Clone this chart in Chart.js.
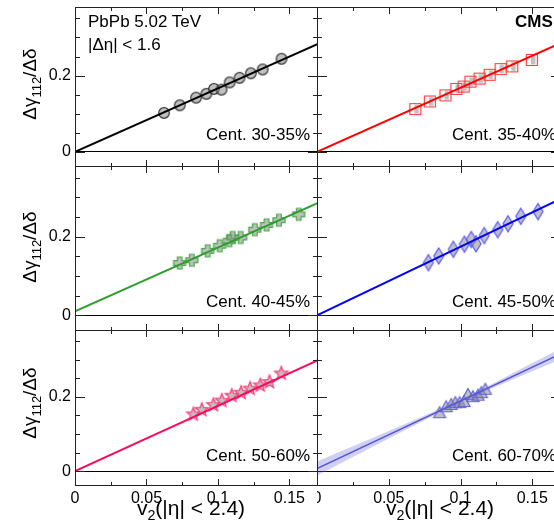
<!DOCTYPE html>
<html>
<head>
<meta charset="utf-8">
<title>dgamma/ddelta vs v2</title>
<script src="https://cdn.jsdelivr.net/npm/chart.js@4.4.1/dist/chart.umd.min.js"></script>
<style>
  html, body { margin: 0; padding: 0; background: #fff; }
  #figure {
    position: relative;
    width: 554px;
    height: 525px;
    overflow: hidden;
    font-family: "Liberation Sans", Arial, sans-serif;
    color: #000;
  }
  #figure canvas { position: absolute; }
  .txt { position: absolute; white-space: nowrap; font-size: 17px; line-height: 17px; }
  .cent { transform: translateX(-100%); }
  .cms { font-weight: bold; }
  .ytitle, .xtitle { position: absolute; white-space: nowrap; }
  .ytitle { font-size: 19px; line-height: 19px; transform: translate(-50%, -50%) rotate(-90deg); }
  .xtitle { font-size: 21px; line-height: 21px; transform: translateX(-50%); }
  sub { font-size: 68%; position: relative; top: 0.38em; vertical-align: baseline; line-height: 0; }
</style>
</head>
<body>
<div id="figure">
  <div class="txt" style="left:88px; top:13px;">PbPb 5.02 TeV</div>
  <div class="txt" style="left:88px; top:36px;">|Δη| &lt; 1.6</div>
  <div class="txt cms" style="left:515px; top:13px;">CMS</div>

  <div class="ytitle" style="left:29px; top:84px;">Δγ<sub>112</sub>/Δδ</div>
  <div class="ytitle" style="left:29px; top:247px;">Δγ<sub>112</sub>/Δδ</div>
  <div class="ytitle" style="left:29px; top:403px;">Δγ<sub>112</sub>/Δδ</div>

  <div class="xtitle" style="left:191px; top:497px;">v<sub>2</sub>(|η| &lt; 2.4)</div>
  <div class="xtitle" style="left:440px; top:497px;">v<sub>2</sub>(|η| &lt; 2.4)</div>
</div>
<script>
// ---------------------------------------------------------------------------
// values
// ---------------------------------------------------------------------------
const centralityLabels = ['Cent. 30-35%', 'Cent. 35-40%', 'Cent. 40-45%',
                          'Cent. 45-50%', 'Cent. 50-60%', 'Cent. 60-70%'];

const v2Cent3035 = [0.0623, 0.0733, 0.0847, 0.0919, 0.0972, 0.1025, 0.1082, 0.1151, 0.1230, 0.1313, 0.1445];
const ratioCent3035 = [0.102, 0.122, 0.142, 0.152, 0.165, 0.163, 0.182, 0.194, 0.206, 0.216, 0.244];

const v2Cent3540 = [0.0685, 0.0786, 0.0895, 0.0971, 0.1022, 0.1069, 0.1133, 0.1203, 0.1279, 0.1360, 0.1497];
const ratioCent3540 = [0.112, 0.132, 0.148, 0.165, 0.171, 0.184, 0.192, 0.202, 0.217, 0.224, 0.241];

const v2Cent4045 = [0.0732, 0.0817, 0.0928, 0.1012, 0.1080, 0.1103, 0.1159, 0.1258, 0.1340, 0.1427, 0.1565];
const ratioCent4045 = [0.133, 0.140, 0.164, 0.177, 0.190, 0.198, 0.198, 0.218, 0.230, 0.242, 0.257];

const v2Cent4550 = [0.0776, 0.0848, 0.0950, 0.1027, 0.1075, 0.1108, 0.1165, 0.1259, 0.1331, 0.1420, 0.1540];
const ratioCent4550 = [0.134, 0.151, 0.168, 0.181, 0.193, 0.182, 0.203, 0.218, 0.233, 0.252, 0.264];

const v2Cent5060 = [0.0828, 0.0887, 0.0968, 0.1027, 0.1097, 0.1162, 0.1225, 0.1296, 0.1361, 0.1443];
const ratioCent5060 = [0.153, 0.165, 0.178, 0.190, 0.203, 0.211, 0.222, 0.231, 0.240, 0.263];

const v2Cent6070 = [0.0854, 0.0900, 0.0935, 0.0964, 0.0994, 0.1024, 0.1052, 0.1087, 0.1122, 0.1145, 0.1173];
const ratioCent6070 = [0.156, 0.172, 0.178, 0.183, 0.183, 0.186, 0.205, 0.199, 0.203, 0.210, 0.219];

// straight-line fits, read at both ends of the v2 axis
const fitV2 = [0, 0.17];
const fitCent3035 = [0, 0.283];
const fitCent3540 = [0, 0.286];
const fitCent4045 = [0.010, 0.286];
const fitCent4550 = [0, 0.297];
const fitCent5060 = [0, 0.299];
const fitCent6070 = [0.007, 0.316];

// uncertainty band around the 60-70% fit
const bandV2 = [0, 0.025, 0.05, 0.075, 0.1, 0.125, 0.15, 0.17];
const bandLowCent6070 = [-0.012, 0.038, 0.088, 0.137, 0.185, 0.228, 0.269, 0.301];
const bandHighCent6070 = [0.026, 0.067, 0.108, 0.150, 0.193, 0.241, 0.291, 0.331];

// axis ticks (labelled ones) and their labels
const xTickValues = [0, 0.05, 0.1, 0.15];
const xTickLabels = ['0', '0.05', '0.1', '0.15'];
const yTickValues = [0, 0.2];
const yTickLabels = ['0', '0.2'];

// ---------------------------------------------------------------------------
// page geometry (pixels)
// ---------------------------------------------------------------------------
const COLUMNS = [
    { left: 0, width: 318, axis: 75, labelRight: 310 },
    { left: 317, width: 244, axis: 0, labelRight: 556 }
];
const ROWS = [
    { top: 7, height: 160, labelTop: 126 },
    { top: 166, height: 165, labelTop: 293 },
    { top: 330, height: 156, labelTop: 447 }
];
const X_LABEL_SPACE = 38;
const GRAY_FILL = 'rgba(140, 140, 140, 0.55)';

Chart.defaults.font.family = "'Liberation Sans', Arial, sans-serif";

const findLabel = (values, labels, v) => {
    const i = values.findIndex(t => Math.abs(t - v) < 1e-9);
    return i >= 0 ? labels[i] : '';
};

/**
 * Build a small canvas holding a ROOT-like open marker with a gray body.
 */
function makeMarker(shape, stroke) {
    const size = 20;
    const c = document.createElement('canvas');
    c.width = size;
    c.height = size;
    const g = c.getContext('2d');
    g.translate(size / 2, size / 2);
    g.beginPath();
    if (shape === 'circle') {
        g.arc(0, 0, 5.3, 0, Math.PI * 2);
    } else if (shape === 'square') {
        g.rect(-5.5, -5.5, 11, 11);
    } else if (shape === 'cross') {
        const a = 2.3, l = 6;
        [[-a, -l], [a, -l], [a, -a], [l, -a], [l, a], [a, a], [a, l], [-a, l],
         [-a, a], [-l, a], [-l, -a], [-a, -a]].forEach(([px, py]) => g.lineTo(px, py));
    } else if (shape === 'diamond') {
        g.moveTo(0, -8); g.lineTo(5, 0); g.lineTo(0, 8); g.lineTo(-5, 0);
    } else if (shape === 'star') {
        for (let i = 0; i < 10; i++) {
            const r = i % 2 ? 3 : 7;
            const t = -Math.PI / 2 + i * Math.PI / 5;
            g.lineTo(r * Math.cos(t), r * Math.sin(t));
        }
    } else if (shape === 'triangle') {
        g.moveTo(0, -6.5); g.lineTo(6, 4.5); g.lineTo(-6, 4.5);
    }
    g.closePath();
    g.fillStyle = GRAY_FILL;
    if (shape === 'square') {
        // only a narrow systematic box shows inside the squares
        g.fillRect(-1, -4.5, 4.5, 9);
    } else {
        g.fill();
    }
    g.lineWidth = 1.2;
    g.strokeStyle = stroke;
    g.stroke();
    return c;
}

/**
 * Frame + inward tick marks on all four sides, as ROOT draws them.
 */
const rootFrame = {
    id: 'rootFrame',
    afterDatasetsDraw(chart) {
        const { ctx, chartArea: a, scales: { x, y } } = chart;
        ctx.save();
        ctx.strokeStyle = '#222';
        ctx.lineWidth = 1;
        ctx.beginPath();
        x.ticks.forEach(t => {
            const px = Math.round(x.getPixelForValue(t.value)) + 0.5;
            const len = findLabel(xTickValues, xTickLabels, t.value) !== '' ? 7 : 4;
            ctx.moveTo(px, a.bottom); ctx.lineTo(px, a.bottom - len);
            ctx.moveTo(px, a.top); ctx.lineTo(px, a.top + len);
        });
        y.ticks.forEach(t => {
            const py = Math.round(y.getPixelForValue(t.value)) + 0.5;
            const len = findLabel(yTickValues, yTickLabels, t.value) !== '' ? 10 : 5;
            ctx.moveTo(a.left, py); ctx.lineTo(a.left + len, py);
            ctx.moveTo(a.right, py); ctx.lineTo(a.right - len, py);
        });
        ctx.stroke();
        ctx.strokeRect(a.left + 0.5, a.top + 0.5, a.width - 1, a.height - 1);
        ctx.restore();
    }
};

class PanelChart {

    constructor(panel) {
        this.panel = panel;
        this.column = COLUMNS[panel.col];
        this.row = ROWS[panel.row];
        this.showX = panel.row === ROWS.length - 1;
        this.showY = panel.col === 0;
        this._chart = null;
    }

    _createCanvas() {
        const figure = document.getElementById('figure');
        const canvas = document.createElement('canvas');
        canvas.width = this.column.width;
        canvas.height = this.row.height + (this.showX ? X_LABEL_SPACE : 0);
        canvas.style.left = `${this.column.left}px`;
        canvas.style.top = `${this.row.top}px`;
        figure.insertBefore(canvas, figure.firstChild);
        return canvas;
    }

    _addLabel() {
        const div = document.createElement('div');
        div.className = 'txt cent';
        div.style.left = `${this.column.labelRight}px`;
        div.style.top = `${this.row.labelTop}px`;
        div.textContent = this.panel.label;
        document.getElementById('figure').appendChild(div);
    }

    _datasets() {
        const p = this.panel;
        const datasets = [];
        if (p.bandLow) {
            datasets.push({
                data: bandV2.map((x, i) => ({ x, y: p.bandLow[i] })),
                showLine: true, borderWidth: 0, pointRadius: 0, fill: false,
                cubicInterpolationMode: 'monotone', order: 2
            });
            datasets.push({
                data: bandV2.map((x, i) => ({ x, y: p.bandHigh[i] })),
                showLine: true, borderWidth: 0, pointRadius: 0, fill: '-1',
                backgroundColor: p.bandColor, cubicInterpolationMode: 'monotone', order: 2
            });
        }
        datasets.push({
            data: p.v2.map((x, i) => ({ x, y: p.ratio[i] })),
            pointStyle: p.marker, pointRadius: 6, showLine: false, order: 1
        });
        datasets.push({
            data: fitV2.map((x, i) => ({ x, y: p.fit[i] })),
            showLine: true, borderColor: p.color, borderWidth: p.lineWidth || 2,
            pointRadius: 0, order: 0
        });
        return datasets;
    }

    init() {
        const tickFont = { size: 16 };
        const showX = this.showX, showY = this.showY, axis = this.column.axis;
        this._chart = new Chart(this._createCanvas(), {
            type: 'scatter',
            data: { datasets: this._datasets() },
            options: {
                responsive: false,
                animation: false,
                devicePixelRatio: 1,
                events: [],
                layout: { padding: 0, autoPadding: false },
                plugins: { legend: { display: false }, tooltip: { enabled: false } },
                scales: {
                    x: {
                        type: 'linear', min: 0, max: 0.17,
                        grid: { display: false, drawTicks: false },
                        border: { display: false },
                        ticks: {
                            display: showX, stepSize: 0.025, includeBounds: false,
                            autoSkip: false, maxRotation: 0, padding: 3,
                            color: '#000', font: tickFont,
                            callback: v => findLabel(xTickValues, xTickLabels, v)
                        },
                        afterFit: s => { s.height = showX ? X_LABEL_SPACE : 0; s.paddingLeft = 0; s.paddingRight = 0; }
                    },
                    y: {
                        type: 'linear', min: -0.04, max: 0.38,
                        grid: {
                            drawTicks: false, lineWidth: 1,
                            color: c => (c.tick && Math.abs(c.tick.value) < 1e-9) ? '#000' : 'rgba(0,0,0,0)'
                        },
                        border: { display: false },
                        ticks: {
                            display: showY, stepSize: 0.05, includeBounds: false,
                            autoSkip: false, padding: 4, color: '#000', font: tickFont,
                            callback: v => findLabel(yTickValues, yTickLabels, v)
                        },
                        afterFit: s => { s.width = axis; s.paddingTop = 0; s.paddingBottom = 0; }
                    }
                }
            },
            plugins: [rootFrame]
        });
        this._addLabel();
    }
}

const panels = [
    { row: 0, col: 0, label: centralityLabels[0], v2: v2Cent3035, ratio: ratioCent3035, fit: fitCent3035,
      color: '#000000', marker: makeMarker('circle', '#333333') },
    { row: 0, col: 1, label: centralityLabels[1], v2: v2Cent3540, ratio: ratioCent3540, fit: fitCent3540,
      color: '#ff0000', marker: makeMarker('square', '#ff3b3b') },
    { row: 1, col: 0, label: centralityLabels[2], v2: v2Cent4045, ratio: ratioCent4045, fit: fitCent4045,
      color: '#2f9e2f', marker: makeMarker('cross', '#45a845') },
    { row: 1, col: 1, label: centralityLabels[3], v2: v2Cent4550, ratio: ratioCent4550, fit: fitCent4550,
      color: '#0000ff', marker: makeMarker('diamond', '#5a5aff') },
    { row: 2, col: 0, label: centralityLabels[4], v2: v2Cent5060, ratio: ratioCent5060, fit: fitCent5060,
      color: '#ff0a5a', marker: makeMarker('star', '#ff3a78') },
    { row: 2, col: 1, label: centralityLabels[5], v2: v2Cent6070, ratio: ratioCent6070, fit: fitCent6070,
      color: '#5656d8', lineWidth: 1.5, marker: makeMarker('triangle', '#6464e0'),
      bandLow: bandLowCent6070, bandHigh: bandHighCent6070, bandColor: 'rgba(120, 120, 230, 0.35)' }
];

panels.forEach(p => new PanelChart(p).init());
</script>
</body>
</html>
